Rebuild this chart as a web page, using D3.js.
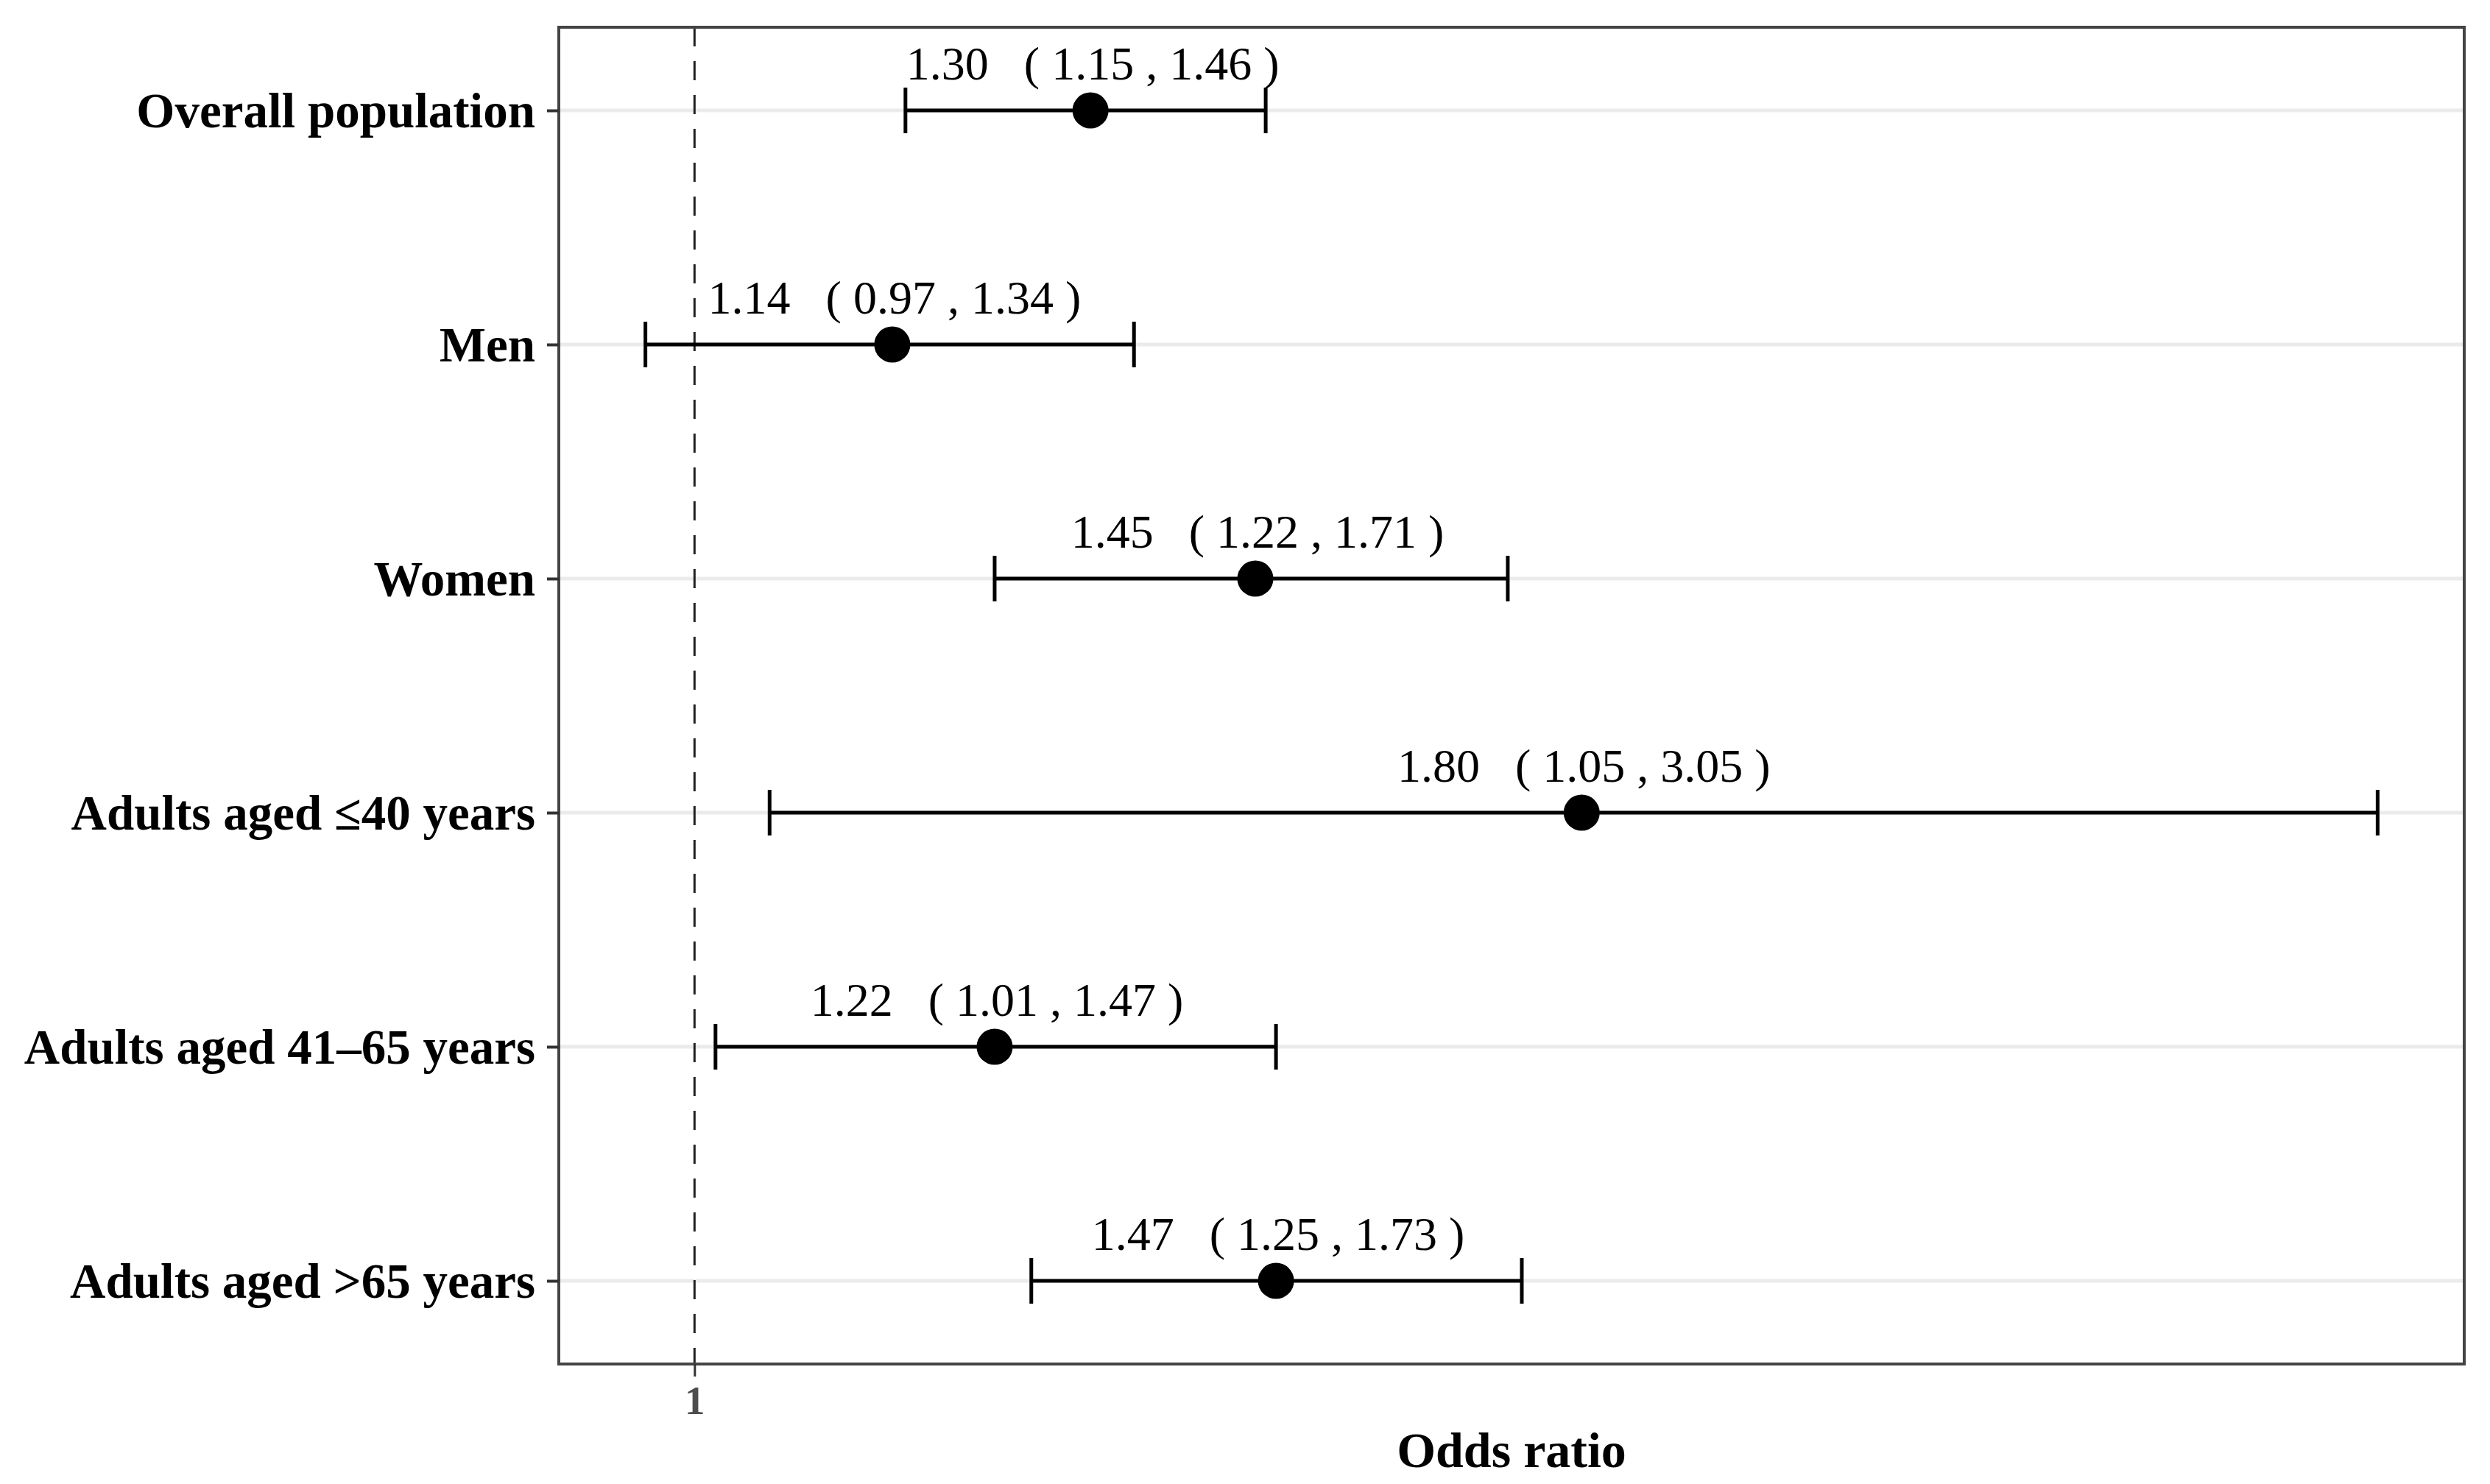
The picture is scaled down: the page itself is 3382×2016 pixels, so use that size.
<!DOCTYPE html>
<html>
<head>
<meta charset="utf-8">
<script src="https://cdn.jsdelivr.net/npm/d3@7"></script>
<style>
  html, body { margin: 0; padding: 0; background: #fff; }
  text { font-family: "Liberation Serif", "Times New Roman", serif; }
</style>
</head>
<body>
<svg id="chart" width="3382" height="2016"></svg>
<script>
const categories = ["Overall population", "Men", "Women", "Adults aged \u226440 years", "Adults aged 41\u201365 years", "Adults aged >65 years"];
const oddsRatio = [1.30, 1.14, 1.45, 1.80, 1.22, 1.47];
const lowerCI  = [1.15, 0.968, 1.22, 1.051, 1.014, 1.25];
const upperCI  = [1.46, 1.338, 1.714, 3.05, 1.47, 1.73];
const xTicks = [1];
const xTitle = "Odds ratio";

const svg = d3.select("#chart");
const W = 3382, H = 2016;
svg.append("rect").attr("width", W).attr("height", H).attr("fill", "#fff");

const panel = { left: 759, right: 3347, top: 37, bottom: 1853 };

// log x scale with 5% expansion on log range
const lo = Math.log10(d3.min(lowerCI)), hi = Math.log10(d3.max(upperCI));
const pad = (hi - lo) * 0.05;
const x = d3.scaleLog()
  .domain([Math.pow(10, lo - pad), Math.pow(10, hi + pad)])
  .range([panel.left, panel.right]);

const y = d3.scalePoint()
  .domain(categories)
  .range([150, 1740]);

const g = svg.append("g");

// gridlines (horizontal major)
g.selectAll("line.grid").data(categories).join("line")
  .attr("class", "grid")
  .attr("x1", panel.left).attr("x2", panel.right)
  .attr("y1", d => y(d)).attr("y2", d => y(d))
  .attr("stroke", "#ebebeb").attr("stroke-width", 5);

// reference dashed line at 1
g.append("line")
  .attr("x1", x(1)).attr("x2", x(1))
  .attr("y1", panel.top).attr("y2", panel.bottom)
  .attr("stroke", "#222").attr("stroke-width", 3)
  .attr("stroke-dasharray", "26,20");

const data = categories.map((c, i) => ({ c, or: oddsRatio[i], lo: lowerCI[i], hi: upperCI[i] }));

// error bars
const eb = g.selectAll("g.eb").data(data).join("g").attr("class", "eb");
eb.append("line")
  .attr("x1", d => x(d.lo)).attr("x2", d => x(d.hi))
  .attr("y1", d => y(d.c)).attr("y2", d => y(d.c))
  .attr("stroke", "#000").attr("stroke-width", 5);
eb.append("line")
  .attr("x1", d => x(d.lo)).attr("x2", d => x(d.lo))
  .attr("y1", d => y(d.c) - 31).attr("y2", d => y(d.c) + 31)
  .attr("stroke", "#000").attr("stroke-width", 5);
eb.append("line")
  .attr("x1", d => x(d.hi)).attr("x2", d => x(d.hi))
  .attr("y1", d => y(d.c) - 31).attr("y2", d => y(d.c) + 31)
  .attr("stroke", "#000").attr("stroke-width", 5);

// points
g.selectAll("circle.pt").data(data).join("circle")
  .attr("class", "pt")
  .attr("cx", d => x(d.or)).attr("cy", d => y(d.c))
  .attr("r", 24.5).attr("fill", "#000");

// annotation labels
g.selectAll("text.lab").data(data).join("text")
  .attr("class", "lab")
  .attr("x", d => x(d.or) + 3).attr("y", d => y(d.c) - 42)
  .attr("text-anchor", "middle")
  .attr("font-size", 64)
  .attr("fill", "#000")
  .style("white-space", "pre")
  .attr("xml:space", "preserve")
  .text(d => d.or.toFixed(2) + "   ( " + d.lo.toFixed(2) + " , " + d.hi.toFixed(2) + " )");

// panel border
svg.append("rect")
  .attr("x", panel.left).attr("y", panel.top)
  .attr("width", panel.right - panel.left).attr("height", panel.bottom - panel.top)
  .attr("fill", "none").attr("stroke", "#444").attr("stroke-width", 4);

// y axis
const yAxis = svg.append("g")
  .attr("transform", `translate(${panel.left},0)`)
  .call(d3.axisLeft(y).tickSize(16).tickPadding(16));
yAxis.select(".domain").remove();
yAxis.selectAll(".tick line").attr("stroke", "#333").attr("stroke-width", 4);
yAxis.selectAll(".tick text")
  .attr("font-family", "Liberation Serif, serif")
  .attr("font-size", 67).attr("font-weight", "bold")
  .attr("fill", "#000").attr("dy", "0.34em");

// x axis
const xAxis = svg.append("g")
  .attr("transform", `translate(0,${panel.bottom})`)
  .call(d3.axisBottom(x).tickValues(xTicks).tickFormat(d3.format("d")).tickSize(17).tickPadding(12));
xAxis.select(".domain").remove();
xAxis.selectAll(".tick line").attr("stroke", "#333").attr("stroke-width", 3);
xAxis.selectAll(".tick text")
  .attr("font-family", "Liberation Serif, serif")
  .attr("font-size", 55).attr("font-weight", "bold")
  .attr("fill", "#4d4d4d");

// x title
svg.append("text")
  .attr("x", (panel.left + panel.right) / 2).attr("y", 1993)
  .attr("text-anchor", "middle")
  .attr("font-size", 68).attr("font-weight", "bold")
  .attr("fill", "#000")
  .text(xTitle);
</script>
</body>
</html>
